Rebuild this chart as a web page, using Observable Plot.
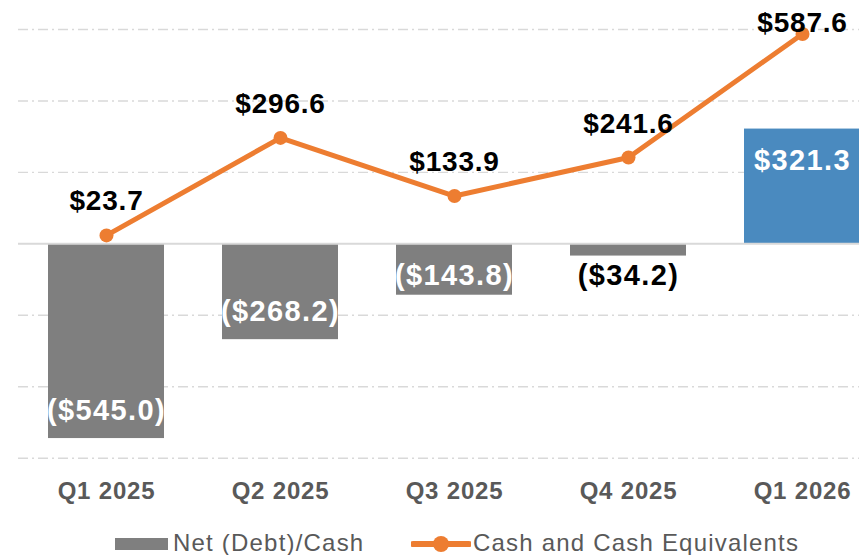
<!DOCTYPE html>
<html>
<head>
<meta charset="utf-8">
<script src="https://cdn.jsdelivr.net/npm/d3@7"></script>
<script src="https://cdn.jsdelivr.net/npm/@observablehq/plot@0.6"></script>
<style>
  html, body { margin: 0; padding: 0; background: #fff; overflow: hidden; }
  body { width: 859px; height: 555px; position: relative; font-family: "Liberation Sans", Arial, sans-serif; }
  #chart svg { display: block; }
  #chart svg text { letter-spacing: 0.8px; }
  #chart svg g.barlabel text { letter-spacing: 1.4px; }
  .lg { position: absolute; top: 531px; height: 24px; line-height: 24px; font-size: 24px; color: #595959; letter-spacing: 1.2px; white-space: nowrap; }
  .sw-bar { position: absolute; left: 115px; top: 538px; width: 53px; height: 12px; background: #7f7f7f; }
  .sw-line { position: absolute; left: 411px; top: 534px; }
</style>
</head>
<body>
<div id="chart"></div>
<div class="sw-bar"></div>
<div class="lg" id="lg1" style="left:173px;"></div>
<svg class="sw-line" width="60" height="20"><line x1="2" y1="10" x2="58" y2="10" stroke="#ED7D31" stroke-width="6" stroke-linecap="round"/><circle cx="30" cy="10" r="8" fill="#ED7D31"/></svg>
<div class="lg" id="lg2" style="left:473px;"></div>
<script>
const quarters = ["Q1 2025", "Q2 2025", "Q3 2025", "Q4 2025", "Q1 2026"];
const netDebtCash = [-545.0, -268.2, -143.8, -34.2, 321.3];
const cashEquivalents = [23.7, 296.6, 133.9, 241.6, 587.6];
const gridValues = [-600, -400, -200, 200, 400, 600];
const seriesNames = ["Net (Debt)/Cash", "Cash and Cash Equivalents"];

document.getElementById("lg1").textContent = seriesNames[0];
document.getElementById("lg2").textContent = seriesNames[1];

const rows = quarters.map((q, i) => ({q, net: netDebtCash[i], cash: cashEquivalents[i]}));
const fmt = v => v < 0 ? `($${Math.abs(v).toFixed(1)})` : `$${v.toFixed(1)}`;

// label placement rules (in data units of the y scale)
const lineLabelY = d => Math.min(d.cash + 95, 617);
const barLabelY = d => d.net < 0 ? Math.min(d.net + 78, -90) : Math.max(d.net - 90, 90);
const insideBar = d => Math.abs(d.net) > 100;

const chart = Plot.plot({
  width: 859,
  height: 515,
  marginTop: 29,
  marginBottom: 57.3,
  marginLeft: 18,
  marginRight: 0,
  style: { fontFamily: "'Liberation Sans', Arial, sans-serif", background: "#fff", overflow: "hidden" },
  x: { domain: quarters, range: [18, 889.5], paddingInner: 0.3345, paddingOuter: 0.16725, axis: null },
  y: { domain: [-600, 600], axis: null },
  marks: [
    Plot.ruleY(gridValues, { stroke: "#d9d9d9", strokeWidth: 1.4, strokeDasharray: "10,4,2,4" }),
    Plot.barY(rows, { filter: d => d.net < 0, x: "q", y: "net", fill: "#7f7f7f" }),
    Plot.barY(rows, { filter: d => d.net >= 0, x: "q", y: "net", fill: "#4a8abf" }),
    Plot.ruleY([0], { stroke: "#d9d9d9", strokeWidth: 2 }),
    Plot.line(rows, { x: "q", y: "cash", stroke: "#ED7D31", strokeWidth: 5 }),
    Plot.dot(rows, { x: "q", y: "cash", r: 7, fill: "#ED7D31" }),
    Plot.text(rows, { x: "q", y: lineLabelY, text: d => fmt(d.cash), fontSize: 28, fontWeight: "bold", fill: "#000" }),
    Plot.text(rows, { filter: insideBar, x: "q", y: barLabelY, text: d => fmt(d.net), fontSize: 29, fontWeight: "bold", fill: "#fff", className: "barlabel" }),
    Plot.text(rows, { filter: d => !insideBar(d), x: "q", y: barLabelY, text: d => fmt(d.net), fontSize: 29, fontWeight: "bold", fill: "#000", className: "barlabel" }),
    Plot.axisX({ tickSize: 0, tickPadding: 24, fontSize: 24, fontWeight: "bold", color: "#595959", label: null })
  ]
});
document.getElementById("chart").appendChild(chart);
</script>
</body>
</html>
